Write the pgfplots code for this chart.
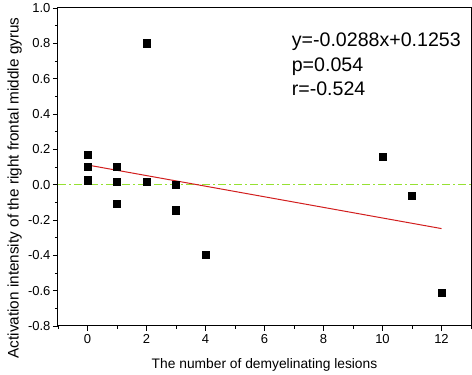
\documentclass[border=0pt]{standalone}
\usepackage{fontspec}
\setmainfont{Liberation Sans}
\usepackage{pgfplots}
\pgfplotsset{compat=1.18}
\definecolor{fitred}{RGB}{210,30,30}
\definecolor{zerogreen}{RGB}{150,225,50}
\begin{document}
\begin{tikzpicture}
\begin{axis}[
  width=413pt, height=318pt, scale only axis,
  xmin=-1, xmax=13, ymin=-0.8, ymax=1.0,
  xtick={0,2,...,12}, ytick={-0.8,-0.6,...,1.0},
  minor xtick={-1,1,3,5,7,9,11,13},
  minor ytick={-0.7,-0.5,...,0.9},
  tick align=outside, tick pos=left,
  major tick length=5pt, minor tick length=3pt,
  every tick/.style={black, line width=0.8pt},
  axis line style={line width=1pt},
  /pgf/number format/assume math mode=true,
  /pgf/number format/fixed, /pgf/number format/fixed zerofill,
  /pgf/number format/precision=1,
  yticklabel style={font=\fontsize{13}{15}\selectfont, xshift=1pt},
  xticklabel={\pgfmathprintnumber[fixed,precision=0]{\tick}},
  xticklabel style={font=\fontsize{13}{15}\selectfont},
  xlabel={The number of demyelinating lesions},
  ylabel={Activation intensity of the right frontal middle gyrus},
  xlabel style={font=\fontsize{13.8}{16}\selectfont, at={(axis description cs:0.5,0)}, anchor=north, inner sep=0pt, yshift=-32pt},
  ylabel style={font=\fontsize{15.3}{17}\selectfont, at={(axis description cs:0,0.434)}, anchor=south, inner sep=0pt, yshift=36pt},
  clip=false,
]
\path (rel axis cs:0,0) ++(-58pt,-49pt) rectangle ++(472pt,374pt);
\addplot[zerogreen, line width=1.2pt, dash pattern=on 8pt off 3pt on 2pt off 3pt] coordinates {(-1,0) (13,0)};
\addplot[fitred, line width=1pt] coordinates {(0,0.111) (12,-0.249)};
\addplot[only marks, mark=square*, mark size=3.6pt, black] coordinates {
(0,0.17) (0,0.10) (0,0.025) (1,0.10) (1,0.015) (1,-0.11) (2,0.80) (2,0.015)
(3,0.0) (3,-0.145) (4,-0.395) (10,0.16) (11,-0.065) (12,-0.61)};
\node[anchor=north west, align=left, font=\fontsize{19.6}{24.5}\selectfont, inner sep=0pt] at (axis cs:6.92,0.858) {y=-0.0288x+0.1253\\p=0.054\\r=-0.524};
\end{axis}
\end{tikzpicture}
\end{document}
